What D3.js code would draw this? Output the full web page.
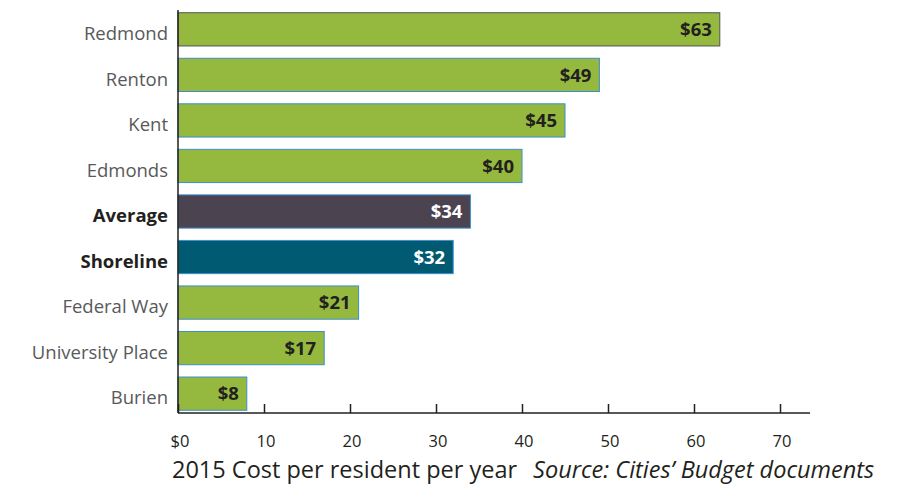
<!DOCTYPE html>
<html>
<head>
<meta charset="utf-8">
<script src="https://cdn.jsdelivr.net/npm/d3@7"></script>
<style>
  body { margin: 0; background: #fff; overflow: hidden; }
  svg { display: block; font-family: 'Open Sans', 'Noto Sans', sans-serif; }
</style>
</head>
<body>
<svg></svg>
<script>
const width = 905;
const height = 487;
const margin = { top: 10, right: 127, bottom: 74, left: 178 };
const innerWidth = width - margin.left - margin.right;
const innerHeight = height - margin.top - margin.bottom;

const cities = ['Redmond', 'Renton', 'Kent', 'Edmonds', 'Average', 'Shoreline', 'Federal Way', 'University Place', 'Burien'];
const costs = [63, 49, 45, 40, 34, 32, 21, 17, 8];
const xTicks = [0, 10, 20, 30, 40, 50, 60, 70];
const highlighted = ['Average', 'Shoreline'];

const fillFor = c => c === 'Average' ? '#4b4350' : c === 'Shoreline' ? '#005a72' : '#94b93e';

const svg = d3.select('svg')
  .attr('width', width)
  .attr('height', height);

const g = svg.append('g')
  .attr('transform', `translate(${margin.left}, ${margin.top})`);

const xScale = d3.scaleLinear()
  .domain([0, 70])
  .range([0, 602]);

const yScale = d3.scaleBand()
  .domain(cities)
  .range([0, innerHeight])
  .paddingInner(0.27)
  .paddingOuter(0.06);

// bars
g.selectAll('rect.bar').data(cities)
  .enter().append('rect')
  .attr('class', 'bar')
  .attr('x', 0)
  .attr('y', d => yScale(d))
  .attr('width', (d, i) => xScale(costs[i]))
  .attr('height', yScale.bandwidth())
  .attr('fill', fillFor)
  .attr('stroke', (d, i) => i === 0 ? '#555' : '#3b8fc9')
  .attr('stroke-width', 1);

// value labels
g.selectAll('text.val').data(cities)
  .enter().append('text')
  .attr('class', 'val')
  .attr('x', (d, i) => xScale(costs[i]) - 8)
  .attr('y', d => yScale(d) + yScale.bandwidth() / 2)
  .attr('dy', '0.36em')
  .attr('text-anchor', 'end')
  .attr('font-size', 18.5)
  .attr('font-weight', 'bold')
  .attr('fill', d => highlighted.includes(d) ? '#fff' : '#231f20')
  .text((d, i) => `$${costs[i]}`);

// category labels (sit a little below the bar centre, as in the original)
g.selectAll('text.cat').data(cities)
  .enter().append('text')
  .attr('class', 'cat')
  .attr('x', -10)
  .attr('y', d => yScale(d) + yScale.bandwidth() / 2 + 4)
  .attr('dy', '0.36em')
  .attr('text-anchor', 'end')
  .attr('font-size', 18.5)
  .attr('font-weight', d => highlighted.includes(d) ? 'bold' : 'normal')
  .attr('fill', d => highlighted.includes(d) ? '#231f20' : '#58595b')
  .text(d => d);

// y axis line
g.append('line')
  .attr('x1', 0).attr('x2', 0)
  .attr('y1', 0).attr('y2', innerHeight)
  .attr('stroke', '#231f20')
  .attr('stroke-width', 1.5);

// x axis: baseline with ticks pointing up
const xAxisG = g.append('g')
  .attr('transform', `translate(0, ${innerHeight})`)
  .call(d3.axisTop(xScale).tickValues(xTicks).tickSize(9).tickFormat(() => ''));
xAxisG.select('.domain').remove();
xAxisG.selectAll('.tick line').attr('stroke', '#231f20').attr('stroke-width', 1.5);

g.append('line')
  .attr('x1', 0).attr('x2', 632)
  .attr('y1', innerHeight).attr('y2', innerHeight)
  .attr('stroke', '#231f20')
  .attr('stroke-width', 1.5);

g.selectAll('text.xtick').data(xTicks)
  .enter().append('text')
  .attr('class', 'xtick')
  .attr('x', d => xScale(d) + 2)
  .attr('y', innerHeight + 34)
  .attr('text-anchor', 'middle')
  .attr('font-size', 16.5)
  .attr('fill', '#231f20')
  .text(d => d === 0 ? '$0' : d);

// caption
const caption = svg.append('text')
  .attr('x', 172)
  .attr('y', 478)
  .attr('font-size', 23.5)
  .attr('fill', '#231f20');
caption.append('tspan').text('2015 Cost per resident per year');
caption.append('tspan')
  .attr('dx', 16)
  .attr('font-style', 'italic')
  .text('Source: Cities\u2019 Budget documents');
</script>
</body>
</html>
